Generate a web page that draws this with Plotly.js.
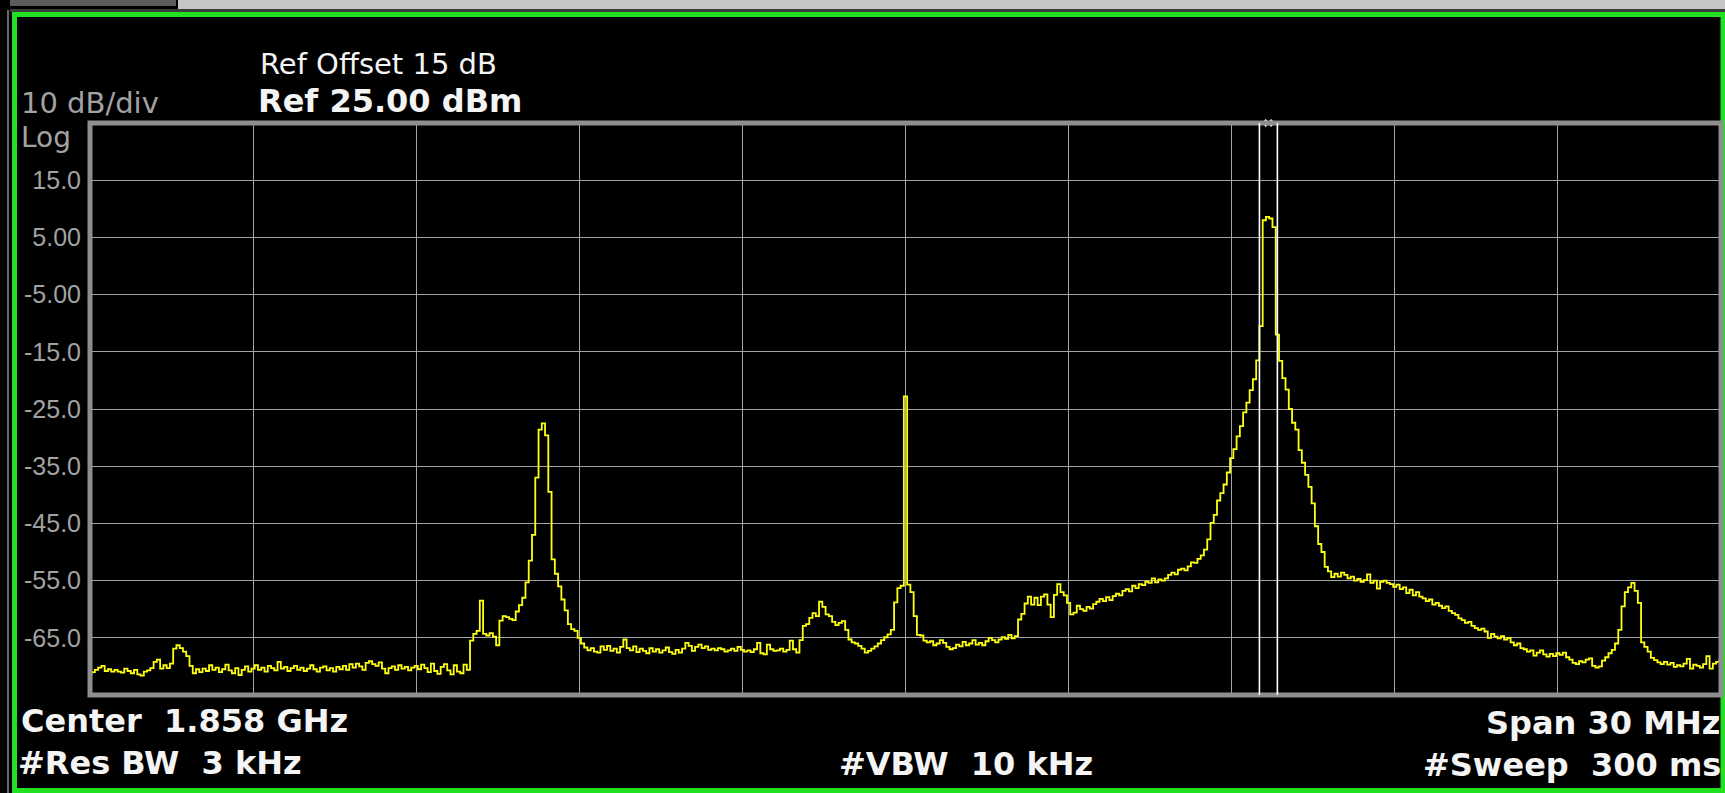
<!DOCTYPE html>
<html>
<head>
<meta charset="utf-8">
<script src="https://cdn.plot.ly/plotly-3.0.1.min.js"></script>
<style>
  html, body { margin: 0; padding: 0; background: #000; }
  #chart { width: 1725px; height: 793px; }
</style>
</head>
<body>
<div id="chart"></div>
<script>
const centerMHz = 1858;
const spanMHz = 30;
const refLevel = 25;       // dBm, top of screen
const dbPerDiv = 10;
const nDivs = 10;

// trace levels (dBm), one per sweep bin across the 30 MHz span
const levels = [
  -71.3, -71.0, -70.6, -70.2, -69.9, -70.8, -70.5, -70.9, -70.6, -70.9,
  -71.1, -70.4, -70.8, -71.2, -70.6, -71.4, -71.6, -70.9, -70.7, -70.3,
  -69.2, -68.8, -70.4, -69.8, -70.3, -69.5, -66.9, -66.3, -66.8, -67.4,
  -68.2, -69.9, -71.2, -70.5, -71.0, -70.4, -70.8, -69.8, -70.6, -70.2,
  -71.0, -70.5, -69.7, -70.7, -71.2, -70.3, -71.5, -70.6, -70.0, -70.9,
  -70.4, -69.8, -70.6, -70.2, -70.9, -69.9, -70.3, -70.7, -69.2, -70.4,
  -70.1, -70.8, -70.3, -69.9, -70.6, -70.2, -70.8, -70.4, -69.8, -70.5,
  -70.9, -70.2, -70.0, -70.7, -70.3, -70.9, -70.1, -70.5, -69.9, -70.6,
  -69.6, -70.2, -69.5, -70.0, -70.6, -69.4, -69.1, -69.6, -69.9, -69.3,
  -70.4, -71.2, -70.3, -70.0, -70.6, -69.8, -70.4, -70.1, -70.7, -70.2,
  -69.9, -70.5, -69.7, -70.3, -71.0, -69.5, -70.8, -71.3, -70.1, -69.6,
  -70.7, -71.4, -69.8, -70.9, -71.2, -69.7, -70.6, -65.5, -64.3, -63.8,
  -58.5, -64.3, -64.6, -64.2, -64.8, -66.3, -62.0, -61.2, -61.4, -61.7,
  -61.9, -60.4, -59.3, -58.0, -55.3, -51.5, -47.0, -37.0, -28.6, -27.5,
  -29.6, -39.5, -51.3, -53.8, -56.0, -58.3, -60.2, -62.6, -63.5, -63.8,
  -65.0, -66.0, -66.7, -67.2, -66.8, -67.4, -67.6, -66.5, -67.1, -66.4,
  -67.3, -66.9, -67.6, -66.6, -65.3, -66.8, -67.2, -66.5, -67.5, -66.9,
  -67.3, -67.7, -66.8, -67.4, -67.0, -67.6, -67.2, -66.7, -67.5, -67.8,
  -67.1, -67.6, -66.9, -65.9, -66.4, -67.3, -66.6, -66.2, -66.8, -66.5,
  -67.1, -66.9, -67.2, -66.8, -67.0, -67.4, -67.2, -66.9, -67.3, -66.6,
  -67.1, -67.4, -67.2, -67.5, -67.0, -65.9, -67.7, -67.9, -66.2, -67.0,
  -67.3, -67.2, -66.9, -67.4, -67.1, -65.5, -67.0, -67.6, -65.4, -62.9,
  -62.6, -61.5, -60.7, -61.2, -58.7, -59.6, -60.9, -61.2, -62.2, -62.8,
  -62.4, -62.1, -63.6, -65.3, -65.8, -66.0, -66.4, -66.9, -67.6, -67.3,
  -66.9, -66.5, -66.0, -65.4, -64.9, -64.4, -63.6, -58.8, -56.3, -55.9,
  -22.8, -55.7, -57.0, -61.2, -64.5, -64.6, -65.5, -65.8, -65.6, -66.3,
  -66.0, -65.4, -65.9, -66.6, -67.0, -66.8, -66.2, -66.5, -65.7, -66.3,
  -66.0, -65.4, -66.2, -65.9, -66.3, -65.6, -65.0, -65.4, -65.8, -65.3,
  -64.9, -65.2, -64.5, -65.1, -64.7, -61.8, -60.8, -59.0, -57.8, -59.2,
  -58.0, -59.3, -57.8, -57.4, -59.2, -61.4, -57.5, -55.6, -57.0, -57.6,
  -58.9, -60.9, -60.6, -59.4, -60.0, -60.3, -59.6, -59.9, -59.1, -58.7,
  -58.2, -58.6, -57.9, -58.4, -57.7, -57.3, -57.6, -56.8, -56.5, -56.9,
  -55.9, -56.3, -55.6, -55.8, -55.2, -55.4, -54.6, -55.3, -54.8, -55.0,
  -54.6, -54.0, -53.6, -53.9, -53.1, -52.9, -53.2, -52.5, -51.8, -51.9,
  -51.2, -50.6, -49.6, -47.8, -44.9, -43.5, -41.0, -39.7, -38.2, -36.1,
  -33.6, -32.0, -29.8, -28.0, -25.6, -23.9, -21.7, -19.8, -16.5, -10.5,
    8.0,   8.6,   8.3,   6.8, -12.0, -16.6, -19.6, -21.6, -25.0, -27.4,
  -28.6, -32.2, -34.4, -36.5, -38.6, -41.5, -45.5, -48.6, -50.0, -52.6,
  -53.4, -54.4, -53.8, -54.3, -53.6, -54.0, -54.6, -54.3, -55.0, -54.7,
  -55.2, -54.9, -53.9, -55.4, -55.0, -56.4, -55.2, -55.0, -55.4, -55.6,
  -56.1, -55.7, -56.5, -56.2, -57.2, -56.6, -57.6, -57.0, -57.8, -58.1,
  -58.6, -58.3, -59.2, -58.9, -59.4, -59.8, -59.5, -60.3, -60.7, -61.0,
  -61.6, -61.9, -62.4, -62.2, -62.9, -63.3, -63.6, -63.4, -63.9, -65.0,
  -64.3, -64.8, -65.1, -64.7, -65.3, -65.0, -65.8, -66.3, -66.0, -66.8,
  -67.0, -67.4, -67.2, -68.1, -67.6, -67.2, -67.9, -68.3, -67.8, -68.2,
  -67.7, -68.0, -67.6, -68.4, -68.8, -69.4, -69.6, -69.1, -69.3, -68.8,
  -68.6, -69.9, -70.2, -70.0, -69.0, -68.4, -67.7, -67.1, -66.0, -63.6,
  -59.5, -57.0, -56.2, -55.4, -56.8, -58.9, -65.8, -66.6, -67.4, -68.5,
  -68.9, -69.3, -69.6, -69.2, -69.7, -69.4, -70.1, -69.8, -70.0, -69.5,
  -68.7, -70.4, -69.7, -69.9, -70.2, -69.6, -68.2, -70.4, -69.5, -69.2,
  -68.9
];

// two band markers (MHz)
const markerFreqs = [1864.51, 1864.84];

// y tick labels as shown on screen
const yTickVals = [15, 5, -5, -15, -25, -35, -45, -55, -65];
const yTickText = ['15.0', '5.00', '-5.00', '-15.0', '-25.0', '-35.0', '-45.0', '-55.0', '-65.0'];

// screen annotations
const scaleText = '10 dB/div';
const scaleTypeText = 'Log';
const refOffsetText = 'Ref Offset 15 dB';
const refLevelText = 'Ref 25.00 dBm';
const centerText = 'Center\u00a0\u00a01.858 GHz';
const rbwText = '#Res BW\u00a0\u00a03 kHz';
const vbwText = '#VBW\u00a0\u00a010 kHz';
const spanText = 'Span 30 MHz';
const sweepText = '#Sweep\u00a0\u00a0300 ms';

// ---------------- derived ----------------
const fStart = centerMHz - spanMHz / 2;
const fStop = centerMHz + spanMHz / 2;
const nPts = levels.length;
const freqs = levels.map((_, i) => fStart + i * spanMHz / (nPts - 1));
const yBottom = refLevel - dbPerDiv * nDivs;

// ---------------- layout geometry ----------------
const W = 1725, H = 793;
const M = { l: 90, r: 4, t: 123, b: 98 };
const pw = W - M.l - M.r, ph = H - M.t - M.b;
const px2x = px => (px - M.l) / pw;
const px2y = py => (H - M.b - py) / ph;

const white = '#f4f4f4';
const gray = '#a2a2a2';
const txtFont = 'DejaVu Sans, Verdana, sans-serif';

function ann(text, xpx, ypx, size, color, bold, anchor) {
  return {
    text: text, xref: 'paper', yref: 'paper',
    x: px2x(xpx), y: px2y(ypx),
    xanchor: anchor || 'left', yanchor: 'middle',
    showarrow: false,
    font: { family: txtFont, size: size, color: color, weight: bold ? 700 : 400 }
  };
}

const trace = {
  type: 'scatter', mode: 'lines',
  x: freqs, y: levels,
  line: { color: '#ffff10', width: 1.8, shape: 'hvh' },
  hoverinfo: 'skip'
};

const tagX = [
  markerFreqs[0] + (markerFreqs[1] - markerFreqs[0]) * 0.35,
  markerFreqs[0] + (markerFreqs[1] - markerFreqs[0]) * 0.65
];
const tags = {
  type: 'scatter', mode: 'markers',
  x: tagX, y: [refLevel, refLevel],
  marker: { symbol: 'diamond', size: 6, color: '#ffffff' },
  cliponaxis: false, hoverinfo: 'skip'
};

const shapes = [
  // title-bar remnants at the very top
  { type: 'rect', xref: 'paper', yref: 'paper', x0: px2x(178), x1: px2x(1725), y0: px2y(9), y1: px2y(0),
    fillcolor: '#c6c6c6', line: { width: 0 } },
  { type: 'rect', xref: 'paper', yref: 'paper', x0: px2x(10), x1: px2x(176), y0: px2y(6), y1: px2y(0),
    fillcolor: '#5c5c5c', line: { width: 0 } },
  { type: 'rect', xref: 'paper', yref: 'paper', x0: px2x(10), x1: px2x(1725), y0: px2y(12), y1: px2y(9),
    fillcolor: '#3c3c3c', line: { width: 0 } },
  { type: 'line', xref: 'paper', yref: 'paper', x0: px2x(8), x1: px2x(8), y0: px2y(10), y1: px2y(793),
    line: { color: '#6a6a6a', width: 2 } },
  // green window border
  { type: 'rect', xref: 'paper', yref: 'paper', x0: px2x(14.5), x1: px2x(1723), y0: px2y(790.5), y1: px2y(14.5),
    line: { color: '#22e022', width: 5 }, fillcolor: 'rgba(0,0,0,0)' },
  // graticule frame
  { type: 'rect', xref: 'paper', yref: 'paper', x0: 0, x1: 1, y0: 0, y1: 1,
    line: { color: '#8e8e8e', width: 5 }, fillcolor: 'rgba(0,0,0,0)' }
].concat(markerFreqs.map(f => ({
  type: 'line', xref: 'x', yref: 'y', x0: f, x1: f, y0: yBottom, y1: refLevel,
  line: { color: '#ffffff', width: 1.6 }, layer: 'above'
})));

const annotations = [
  ann(refOffsetText, 258, 64, 29, white, false),
  ann(refLevelText, 256, 101, 32, white, true),
  ann(scaleText, 19, 102.5, 29, gray, false),
  ann(scaleTypeText, 19, 137.5, 28, gray, false),
  ann(centerText, 19, 721, 32, white, true),
  ann(rbwText, 16, 763, 32, white, true),
  ann(vbwText, 837, 764, 32, white, true),
  ann(spanText, 1722, 723, 32, white, true, 'right'),
  ann(sweepText, 1723, 765, 32, white, true, 'right')
];

const layout = {
  width: W, height: H,
  margin: M,
  paper_bgcolor: '#000000',
  plot_bgcolor: '#000000',
  showlegend: false,
  xaxis: {
    range: [fStart, fStop], tick0: fStart, dtick: spanMHz / nDivs,
    showgrid: true, gridcolor: '#a4a4a4', gridwidth: 1,
    showticklabels: false, ticks: '', zeroline: false, showline: false, fixedrange: true
  },
  yaxis: {
    range: [yBottom, refLevel],
    tickmode: 'array', tickvals: yTickVals, ticktext: yTickText,
    showgrid: true, gridcolor: '#a4a4a4', gridwidth: 1,
    ticks: '', ticklabelstandoff: 8,
    tickfont: { family: 'Liberation Sans, Arial, sans-serif', size: 25, color: gray },
    zeroline: false, showline: false, fixedrange: true
  },
  shapes: shapes,
  annotations: annotations
};

Plotly.newPlot('chart', [trace, tags], layout, { displayModeBar: false, staticPlot: true });
</script>
</body>
</html>
